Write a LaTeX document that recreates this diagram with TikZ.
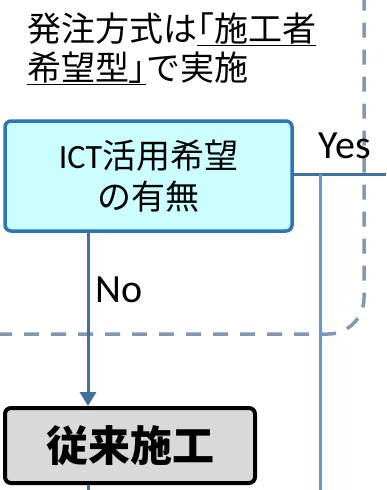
\documentclass[tikz,border=0pt]{standalone}
\usepackage{fontspec}
\setmainfont{Noto Sans CJK JP}
\newfontfamily\lat{Carlito}
\newfontfamily\brk{Noto Sans CJK JP}[RawFeature=+palt]
\usetikzlibrary{arrows.meta}
\definecolor{dashc}{HTML}{8497B0}
\definecolor{boxb}{HTML}{2E75B6}
\definecolor{linec}{HTML}{41719C}
\definecolor{vlinec}{HTML}{5B9BD5}
\definecolor{boxf}{HTML}{CCFFFF}
\definecolor{greyf}{HTML}{D9D9D9}
\begin{document}
\begin{tikzpicture}[x=1pt,y=-1pt,
  decisionbox/.style={draw=boxb, fill=boxf, line width=3.5pt, rounded corners=6pt,
    minimum width=287pt, minimum height=110pt, align=center, inner sep=0pt,
    font=\fontsize{34}{41}\selectfont},
  resultbox/.style={draw=black, fill=greyf, line width=4pt, rounded corners=6pt,
    minimum width=250pt, minimum height=75pt, inner sep=0pt,
    font=\fontsize{42}{42}\selectfont\bfseries},
  flow/.style={draw=linec, line width=3pt},
  lbl/.style={inner sep=0pt, font=\lat\fontsize{40}{40}\selectfont},
  headtxt/.style={anchor=base west, inner sep=0pt, font=\fontsize{34}{34}\selectfont}
]
\useasboundingbox (0,0) rectangle (386,490);
% dashed group frame
\draw[dashc, line width=3.5pt, dash pattern=on 15pt off 12pt, rounded corners=36pt]
  (-30,334) -- (364,334) -- (364,-30);
% heading text
\node[headtxt] (head1) at (27,41) {発注方式は\underline{{\brk 「}施工者}};
\node[headtxt] (head2) at (27,80) {\underline{希望型{\brk 」}}で実施};
% decision box
\node[decisionbox] (ict) at (148.5,176) {{\lat ICT}活用希望\\の有無};
% Yes branch
\coordinate (yesend) at (386,174);
\draw[flow] (ict.east |- yesend) -- (yesend);
\coordinate (vtop) at (320,174);
\coordinate (vbot) at (320,490);
\draw[vlinec, line width=3pt] (vtop) -- (vbot);
\node[lbl] (yes) at (345,146) {Yes};
% result box
\node[resultbox] (conv) at (130,445.5) {従来施工};
% No branch
\coordinate (nstart) at (88,231);
\draw[flow, -{Triangle[width=16pt,length=14pt]}] (nstart) -- (nstart |- conv.north);
\node[lbl] (no) at (119,290) {No};
\coordinate (nend) at (88,490);
\draw[flow] (nend |- conv.south) -- (nend);
\end{tikzpicture}
\end{document}
